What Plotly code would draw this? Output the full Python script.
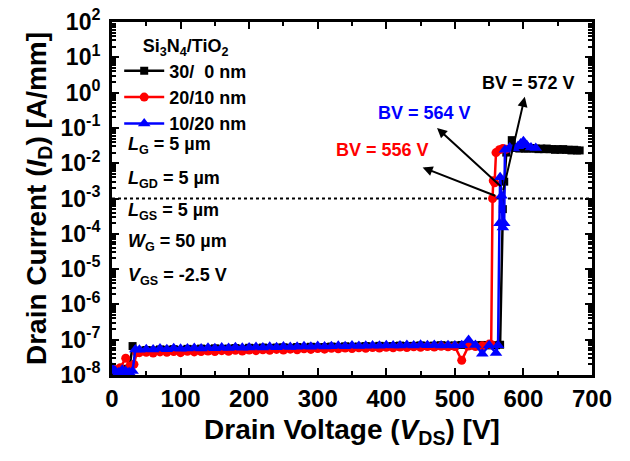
import plotly.graph_objects as go

# ---------------- data ----------------
LEAK_UNIT = 1e-8  # leakage values below are given in units of 1e-8 A/mm

leak_v_black = list(range(40, 561, 10))
leak_v_red = list(range(40, 551, 10))
leak_v_blue = list(range(40, 561, 10))

# 30/0 nm (black)
black_v_start = [0, 5, 10, 15, 20, 25, 30]
black_i_start = [1.3, 1.2, 1.4, 1.3, 1.5, 1.4, 6.6]
black_i_leak = [4.9, 5.1, 5.0, 5.3, 5.2, 5.4, 5.1, 5.5, 5.3, 5.6,
                5.4, 5.7, 5.5, 5.6, 5.8, 5.5, 5.9, 5.7, 6.0, 5.8,
                6.0, 6.1, 5.9, 6.2, 6.0, 6.3, 6.1, 6.2, 6.4, 6.2,
                6.5, 6.3, 6.4, 6.6, 6.4, 6.7, 6.5, 6.6, 6.8, 6.6,
                6.7, 6.9, 6.7, 6.8, 7.0, 6.8, 6.9, 7.1, 6.9, 7.0,
                7.1, 6.9, 7.0]
black_v_bd = [566, 570, 572, 575, 583, 587,
              590, 594, 598, 602, 606, 610, 614, 618, 622, 626, 630, 634,
              638, 642, 646, 650, 654, 658, 662, 666, 670, 674, 678, 682]
black_i_bd = [7.2e-8, 5e-4, 3e-3, 2.0e-2, 4.5e-2, 2.8e-2,
              2.7e-2, 2.6e-2, 2.7e-2, 2.6e-2, 2.6e-2, 2.7e-2, 2.6e-2, 2.6e-2,
              2.5e-2, 2.6e-2, 2.5e-2, 2.6e-2, 2.5e-2, 2.5e-2, 2.4e-2, 2.5e-2,
              2.4e-2, 2.5e-2, 2.4e-2, 2.4e-2, 2.3e-2, 2.4e-2, 2.3e-2, 2.3e-2]

# 20/10 nm (red)
red_v_start = [0, 6, 12, 20, 26, 32, 36]
red_i_start = [1.5, 1.4, 1.6, 3.0, 1.8, 2.0, 4.3]
red_i_leak = [4.3, 4.4, 4.2, 4.5, 4.4, 4.6, 4.3, 4.7, 4.5, 4.6,
              4.8, 4.6, 4.9, 4.7, 5.0, 4.8, 5.1, 4.9, 5.2, 5.0,
              5.3, 5.1, 5.4, 5.2, 5.5, 5.3, 5.6, 5.4, 5.7, 5.5,
              5.8, 5.6, 5.9, 5.7, 6.0, 5.8, 6.1, 5.9, 6.2, 6.0,
              6.3, 6.1, 6.4, 6.2, 6.5, 6.3, 6.4, 2.6, 6.6, 6.4,
              6.7, 7.5]
red_v_bd = [553, 555, 556, 558, 560, 565, 570, 575]
red_i_bd = [7.3e-8, 1.0e-3, 3.2e-3, 2.8e-3, 2.0e-2, 2.4e-2, 2.6e-2, 2.5e-2]

# 10/20 nm (blue)
blue_v_start = [0, 5, 10, 15, 20, 25, 30, 34]
blue_i_start = [1.6, 1.3, 1.2, 1.4, 1.3, 1.2, 1.3, 5.3]
blue_i_leak = [5.2, 5.4, 5.3, 5.6, 5.4, 5.7, 5.5, 5.6, 5.8, 5.6,
               5.9, 5.7, 6.0, 5.8, 6.1, 5.9, 6.0, 6.2, 6.0, 6.3,
               6.1, 6.4, 6.2, 6.3, 6.5, 6.3, 6.6, 6.4, 6.5, 6.7,
               6.5, 6.8, 6.6, 6.7, 6.9, 6.7, 7.0, 6.8, 6.9, 7.1,
               6.9, 7.2, 7.0, 7.1, 6.9, 7.0, 6.8, 7.0, 9.8, 7.1,
               4.0, 7.0, 4.2]
blue_v_bd = [563, 565, 566, 568, 570, 572, 573, 580, 586, 592, 596, 600, 605, 611, 618]
blue_i_bd = [7e-8, 2e-4, 4e-3, 1.2e-3, 1.5e-4, 2e-4, 2.4e-2, 2.8e-2, 2.6e-2,
             3.0e-2, 3.6e-2, 4.2e-2, 3.2e-2, 2.8e-2, 2.7e-2]

BV_CRITERION = 1e-3  # A/mm
x_range = [0, 700]

y_tick_exps = [-8, -7, -6, -5, -4, -3, -2, -1, 0, 1, 2]
y_tickvals = [10.0 ** e for e in y_tick_exps]
y_ticktext = [f"10<sup>{e}</sup>" for e in y_tick_exps]

legend_names = ["30/\u00a0\u00a00 nm", "20/10 nm", "10/20 nm"]

# ---------------- build ----------------
def series(v_start, i_start, v_leak, i_leak, v_bd, i_bd):
    x = list(v_start) + list(v_leak) + list(v_bd)
    y = [a * LEAK_UNIT for a in i_start] + [a * LEAK_UNIT for a in i_leak] + list(i_bd)
    return x, y

bx, by = series(black_v_start, black_i_start, leak_v_black, black_i_leak, black_v_bd, black_i_bd)
rx, ry = series(red_v_start, red_i_start, leak_v_red, red_i_leak, red_v_bd, red_i_bd)
ux, uy = series(blue_v_start, blue_i_start, leak_v_blue, blue_i_leak, blue_v_bd, blue_i_bd)

FONT = "Liberation Sans, Arial, sans-serif"

fig = go.Figure()
fig.add_trace(go.Scatter(x=x_range, y=[BV_CRITERION, BV_CRITERION], mode="lines",
                         line=dict(color="black", width=2, dash="dot"),
                         showlegend=False, hoverinfo="skip"))
fig.add_trace(go.Scatter(x=bx, y=by, mode="lines+markers", name=legend_names[0],
                         line=dict(color="black", width=2.5),
                         marker=dict(symbol="square", size=8, color="black")))
fig.add_trace(go.Scatter(x=rx, y=ry, mode="lines+markers", name=legend_names[1],
                         line=dict(color="#ff0000", width=2.5),
                         marker=dict(symbol="circle", size=9, color="#ff0000")))
fig.add_trace(go.Scatter(x=ux, y=uy, mode="lines+markers", name=legend_names[2],
                         line=dict(color="#0000ff", width=2.5),
                         marker=dict(symbol="triangle-up", size=11, color="#0000ff")))

# arrows (annotation coords on log axis are log10)
arrows = [
    dict(head=(602, -0.12), tail=(570, -2.80)),
    dict(head=(474, -1.00), tail=(569, -2.69)),
    dict(head=(453, -2.12), tail=(561, -2.94)),
]
for a in arrows:
    fig.add_annotation(x=a["head"][0], y=a["head"][1], ax=a["tail"][0], ay=a["tail"][1],
                       xref="x", yref="y", axref="x", ayref="y", text="",
                       showarrow=True, arrowhead=2, arrowsize=1, arrowwidth=2,
                       arrowcolor="black")

bv_labels = [("BV = 572 V", 607, 0.28, "black"),
             ("BV = 564 V", 456, -0.57, "#0000ff"),
             ("BV = 556 V", 395, -1.62, "#ff0000")]
for t, xv, yv, c in bv_labels:
    fig.add_annotation(x=xv, y=yv, xref="x", yref="y", text=f"<b>{t}</b>",
                       showarrow=False, font=dict(size=18, color=c, family=FONT))

params = [
    ("<b><i>L</i><sub>G</sub> = 5 \u00b5m</b>", 145),
    ("<b><i>L</i><sub>GD</sub> = 5 \u00b5m</b>", 179),
    ("<b><i>L</i><sub>GS</sub> = 5 \u00b5m</b>", 212),
    ("<b><i>W</i><sub>G</sub> = 50 \u00b5m</b>", 243),
    ("<b><i>V</i><sub>GS</sub> = -2.5 V</b>", 276),
]
PLOT_TOP, PLOT_BOT = 22, 375
for t, py in params:
    fig.add_annotation(x=0.03, y=1 - (py - PLOT_TOP) / (PLOT_BOT - PLOT_TOP),
                       xref="paper", yref="paper", xanchor="left", yanchor="middle",
                       text=t, showarrow=False, font=dict(size=18, color="black", family=FONT))

axis_common = dict(showline=True, linewidth=3, linecolor="black", mirror="ticks",
                   ticks="inside", ticklen=7, tickwidth=2, tickcolor="black",
                   showgrid=False, zeroline=False, automargin=False,
                   ticklabeloverflow="allow")

fig.update_xaxes(range=x_range, dtick=100, tick0=0,
                 minor=dict(ticks="inside", ticklen=4, tickwidth=1.5, dtick=50, tickcolor="black"),
                 title=dict(text="<b>Drain Voltage (<i>V</i><sub>DS</sub>) [V]</b>",
                            font=dict(size=28, color="black", family=FONT), standoff=9),
                 tickprefix="<b>", ticksuffix="</b>",
                 tickfont=dict(size=24, color="black", family=FONT),
                 **axis_common)
fig.update_yaxes(type="log", range=[-8, 2], tickvals=y_tickvals,
                 ticktext=[f"<b>{t}</b>" for t in y_ticktext],
                 minor=dict(ticks="inside", ticklen=4, tickwidth=1.5, dtick="D1", tickcolor="black"),
                 title=dict(text="<b>Drain Current (<i>I</i><sub>D</sub>) [A/mm]</b>",
                            font=dict(size=28, color="black", family=FONT), standoff=6),
                 tickfont=dict(size=23, color="black", family=FONT),
                 ticklabelstandoff=4,
                 **axis_common)

# the page body has an 8px default margin, so offsets are reduced by 8px
fig.update_layout(
    width=630, height=461,
    margin=dict(l=104, r=46, t=14, b=94, autoexpand=False),
    paper_bgcolor="white", plot_bgcolor="white",
    font=dict(family=FONT, color="black"),
    showlegend=True,
    legend=dict(x=0.015, y=0.98, xanchor="left", yanchor="top",
                bgcolor="rgba(0,0,0,0)",
                title=dict(text="<b>Si<sub>3</sub>N<sub>4</sub>/TiO<sub>2</sub></b>",
                           side="top center", font=dict(size=18, family=FONT)),
                font=dict(size=18, family=FONT, color="black"),
                tracegroupgap=0, itemwidth=40),
)
for tr in fig.data[1:]:
    tr.name = f"<b>{tr.name}</b>"

fig.write_html("out.html")
